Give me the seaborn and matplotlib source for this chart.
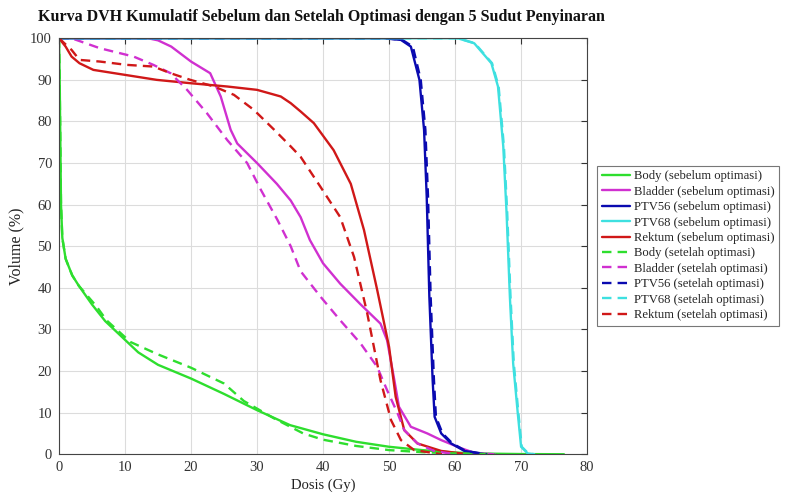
import pandas as pd
import matplotlib
matplotlib.use("Agg")
import matplotlib.pyplot as plt
import seaborn as sns

# ---------------- data (dose Gy, volume %) ----------------
body_pre_x = [0, 0.1, 0.2, 0.3, 0.5, 1, 2, 3, 5, 7, 10, 12, 15, 20, 25, 30, 35, 40, 45, 50, 55, 60, 65, 70, 76.5]
body_pre_y = [100, 90, 75, 60, 52, 47, 43, 40.5, 36, 32, 27.5, 24.5, 21.5, 18.2, 14.5, 10.6, 7, 4.8, 3, 1.8, 1, 0.4, 0.15, 0.05, 0]
body_post_x = [0, 0.1, 0.2, 0.3, 0.5, 1, 2, 3, 5.7, 7.2, 10.8, 15, 20, 25, 28, 32.6, 37, 40, 45, 50, 55, 60, 66]
body_post_y = [100, 90, 75, 60, 52, 47, 43, 40.5, 35.5, 32.2, 27, 24, 20.8, 17, 12.8, 8.6, 5, 3.5, 2, 1, 0.5, 0.2, 0]

bladder_pre_x = [0, 13.5, 15, 17, 20, 22.9, 24.5, 26, 27, 30, 33, 35.1, 36.6, 38, 40, 42.6, 45.7, 48.7, 49.7, 50.8, 51.5, 53.3, 55.8, 57.9, 61, 63, 66]
bladder_pre_y = [100, 100, 99.5, 98, 94.4, 91.6, 86, 78, 74.7, 70, 65, 61, 57, 51.5, 45.9, 41, 36, 31.4, 27.4, 17.8, 11.4, 6.6, 5, 3.4, 1.4, 0.3, 0]
bladder_post_x = [0, 1.9, 6.2, 11.3, 14.3, 16.9, 19.4, 22.4, 25.5, 28.5, 30.6, 33.1, 35.1, 36.6, 39.6, 42.6, 45.7, 48.2, 49.7, 51.3, 52.3, 54.3, 56.8, 60]
bladder_post_y = [100, 100, 97.6, 95.6, 93.6, 91.6, 87.6, 82, 75.5, 70, 63.5, 56.3, 50, 44, 37.9, 32.2, 26.6, 21, 15.4, 9.8, 5.8, 2.6, 0.8, 0]

ptv56_pre_x = [0, 49.2, 51.8, 53.3, 54.6, 55.3, 55.7, 56.1, 56.6, 56.9, 57.9, 59.4, 61.4, 64.5]
ptv56_pre_y = [100, 100, 99.6, 98, 90, 78, 62, 37.9, 17.8, 9, 5, 2.6, 0.8, 0]
ptv56_post_x = [0, 49.5, 52.0, 53.6, 54.8, 55.5, 55.9, 56.3, 56.8, 57.1, 58.1, 59.6, 61.6, 64.8]
ptv56_post_y = [100, 100, 99.6, 98, 90, 78, 62, 37.9, 17.8, 9, 5, 2.6, 0.8, 0]

ptv68_pre_x = [0, 60.4, 62.9, 65.5, 66.5, 67.3, 67.8, 68.3, 68.8, 69.5, 70, 71, 72]
ptv68_pre_y = [100, 100, 98.8, 94, 88.4, 74, 58, 37.9, 21.8, 9.8, 1.8, 0.2, 0]
ptv68_post_x = [0, 60.5, 63.0, 65.6, 66.6, 67.4, 67.9, 68.4, 68.9, 69.6, 70.1, 71.1, 72.1]
ptv68_post_y = [100, 100, 98.8, 94, 88.4, 74, 58, 37.9, 21.8, 9.8, 1.8, 0.2, 0]

rektum_pre_x = [0, 1, 1.9, 3.1, 5.2, 10, 14.8, 19.9, 25.5, 30, 33.6, 35.1, 36.6, 38.6, 41.6, 44.2, 46.2, 48.2, 50, 51, 52.3, 54.3, 57.9, 62]
rektum_pre_y = [100, 98, 95.6, 94, 92.4, 91.2, 90, 89.2, 88.4, 87.6, 86, 84.4, 82.4, 79.6, 73.1, 65, 53.9, 39.5, 25.8, 13.8, 5.8, 2.6, 0.8, 0]
rektum_post_x = [0, 1.9, 3.1, 6.2, 10.3, 14.3, 16.9, 19.9, 23.5, 26.5, 29.5, 32.6, 35.1, 36.6, 39.6, 42.6, 44.7, 46.7, 48.7, 50.3, 51.8, 53.8, 58]
rektum_post_y = [100, 97.2, 94.8, 94.4, 93.6, 93.2, 91.6, 90, 88.4, 86.4, 82.8, 78, 74, 71.5, 64.3, 57, 47.4, 33.8, 17.8, 8.2, 3.4, 1, 0]

labels_organ = ["Body", "Bladder", "PTV56", "PTV68", "Rektum"]
warna = ["#2ede2e", "#d030d0", "#0a0ab0", "#3ee0e0", "#d01818"]

sebelum = [(body_pre_x, body_pre_y), (bladder_pre_x, bladder_pre_y), (ptv56_pre_x, ptv56_pre_y),
           (ptv68_pre_x, ptv68_pre_y), (rektum_pre_x, rektum_pre_y)]
setelah = [(body_post_x, body_post_y), (bladder_post_x, bladder_post_y), (ptv56_post_x, ptv56_post_y),
           (ptv68_post_x, ptv68_post_y), (rektum_post_x, rektum_post_y)]

# ---------------- plot ----------------
sns.set_style("white")
plt.rcParams['font.family'] = ['Liberation Serif', 'DejaVu Serif']

fig = plt.figure(figsize=(7.87, 4.97), dpi=100)
ax = fig.add_axes([0.075, 0.086, 0.671, 0.837])

for nama, (x, y), c in zip(labels_organ, sebelum, warna):
    sns.lineplot(x=x, y=y, ax=ax, color=c, linewidth=1.7, sort=False, estimator=None,
                 label=f"{nama} (sebelum optimasi)")
for nama, (x, y), c in zip(labels_organ, setelah, warna):
    sns.lineplot(x=x, y=y, ax=ax, color=c, linewidth=1.7, linestyle=(0, (4, 2.6)), sort=False,
                 estimator=None, label=f"{nama} (setelah optimasi)")

ax.set_xlim(0, 80)
ax.set_ylim(0, 100)
ax.set_xticks(range(0, 81, 10))
ax.set_yticks(range(0, 101, 10))
ax.grid(True, color="#dcdcdc", linewidth=0.8)
ax.tick_params(direction="in", length=4, top=True, right=True, labelsize=10.5, colors="#333333", pad=5)
for s in ax.spines.values():
    s.set_color("#444444")
    s.set_linewidth(0.8)

ax.set_xlabel("Dosis (Gy)", fontsize=10.5, color="#222222", labelpad=3)
ax.set_ylabel("Volume (%)", fontsize=11.5, color="#222222", labelpad=4)
fig.suptitle("Kurva DVH Kumulatif Sebelum dan Setelah Optimasi dengan 5 Sudut Penyinaran",
             fontsize=11.5, fontweight="bold", x=0.408, y=0.982, color="#111111")

# legend kept inside the figure
leg = ax.legend(loc="upper left", bbox_to_anchor=(0.759, 0.666), bbox_transform=fig.transFigure,
                fontsize=9.1, frameon=True, fancybox=False, handlelength=2.2, handletextpad=0.35,
                labelspacing=0.27, borderpad=0.35, borderaxespad=0)
leg.get_frame().set_edgecolor("#555555")
leg.get_frame().set_linewidth(0.8)

fig.savefig("out.png", dpi=100)
